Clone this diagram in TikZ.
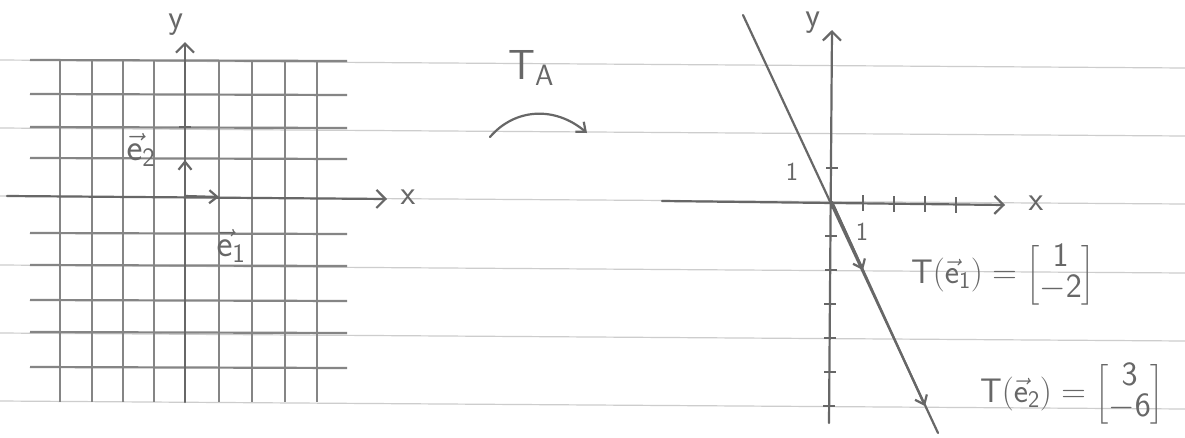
\RequirePackage{fix-cm}
\documentclass[tikz,border=0pt]{standalone}
\usepackage{amsmath}
\usetikzlibrary{arrows.meta}
\definecolor{pencil}{HTML}{676767}
\definecolor{ruled}{HTML}{CDCDCD}
\tikzset{
  ink/.style={draw=pencil, line width=2.2pt, line cap=round},
  paper/.style={draw=ruled, line width=1.2pt},
  gridline/.style={draw=pencil!80, line width=2.2pt},
  axis/.style={ink, -{Straight Barb[length=9pt,width=18pt,line width=2.2pt]}},
  vecarrow/.style={ink, -{Straight Barb[length=8pt,width=13pt,line width=2.2pt]}},
  tickmark/.style={draw=pencil, line width=2.2pt},
  lbl/.style={text=pencil, font=\fontsize{34}{37}\selectfont, inner sep=0pt},
  veclbl/.style={text=pencil, font=\fontsize{38}{40}\selectfont, inner sep=0pt},
  biglbl/.style={text=pencil, font=\fontsize{42}{44}\selectfont, inner sep=0pt},
  small/.style={text=pencil, font=\fontsize{26}{28}\selectfont, inner sep=0pt},
  eqlbl/.style={text=pencil, font=\fontsize{34}{37}\selectfont\renewcommand{\arraystretch}{0.78}, inner sep=0pt},
}
\begin{document}
\begin{tikzpicture}[x=1pt,y=-1pt]
\useasboundingbox (0,0) rectangle (1185,437);
\fill[white] (0,0) rectangle (1185,437);
% ruled paper lines
\foreach \yy in {60,128,196,265,333,401}
  \draw[paper] (0,\yy) -- (1185,\yy+8);
% left grid
\foreach \yy in {60,94,127,158,233,265,300,332,367}
  \draw[gridline] (30,\yy) -- (347,\yy+1);
\foreach \xx in {60,92,123,154,219,252,285,317}
  \draw[gridline] (\xx,60) -- (\xx,402);
% left axes
\coordinate (O1) at (185,196);
\coordinate (xl0) at (7,196);
\coordinate (xl1) at (387,199);
\coordinate (yl0) at (185,402);
\coordinate (yl1) at (185,42);
\draw[axis] (xl0) -- (xl1);
\draw[axis] (yl0) -- (yl1);
\draw[tickmark] (179,127) -- (191,127);
\coordinate (e1) at (219,197);
\coordinate (e2) at (185,160);
\draw[vecarrow] (O1) -- (e1);
\draw[vecarrow] (O1) -- (e2);
\node[lbl] (ylabL) at (176,24) {$\mathsf{y}$};
\node[lbl] (xlabL) at (408,197) {$\mathsf{x}$};
\node[veclbl] (e2lab) at (141,150) {$\vec{\mathsf{e}}_{\mathsf{2}}$};
\node[veclbl] (e1lab) at (231,246) {$\vec{\mathsf{e}}_{\mathsf{1}}$};
% transformation arrow
\node[biglbl] (TA) at (531,68) {$\mathsf{T}_{\mathsf{A}}$};
\coordinate (ta0) at (490,137);
\coordinate (ta1) at (587,133);
\draw[vecarrow] (ta0) .. controls (515,108) and (555,106) .. (ta1);
% right axes
\coordinate (O2) at (832,202);
\coordinate (xr0) at (662,201);
\coordinate (xr1) at (1005,205);
\coordinate (yr0) at (829,423);
\coordinate (yr1) at (832,30);
\draw[axis] (xr0) -- (xr1);
\draw[axis] (yr0) -- (yr1);
\foreach \xx/\yy in {863/203,894/204,925/204,956/205}
  \draw[tickmark] (\xx,\yy-8) -- (\xx,\yy+8);
\foreach \yy/\xx in {168/832,236/831,270/831,304/830,338/830,372/830,406/829}
  \draw[tickmark] (\xx-6,\yy) -- (\xx+6,\yy);
\node[lbl] (ylabR) at (813,22) {$\mathsf{y}$};
\node[lbl] (xlabR) at (1036,203) {$\mathsf{x}$};
\node[small] (oneX) at (862,232) {$\mathsf{1}$};
\node[small] (oneY) at (792,172) {$\mathsf{1}$};
% image line
\coordinate (L0) at (743,15);
\coordinate (L1) at (938,433);
\draw[ink] (L0) -- (L1);
\coordinate (Te1) at (863,270);
\coordinate (Te2) at (925,406);
\draw[vecarrow] (O2) -- (Te1);
\draw[vecarrow] (O2) -- (Te2);
\node[eqlbl] (Te1lab) at (1003,275) {$\mathsf{T}(\vec{\mathsf{e}}_{\mathsf{1}})=\begin{bmatrix}\mathsf{1}\\-\mathsf{2}\end{bmatrix}$};
\node[eqlbl] (Te2lab) at (1072,394) {$\mathsf{T}(\vec{\mathsf{e}}_{\mathsf{2}})=\begin{bmatrix}\mathsf{3}\\-\mathsf{6}\end{bmatrix}$};
\end{tikzpicture}
\end{document}
